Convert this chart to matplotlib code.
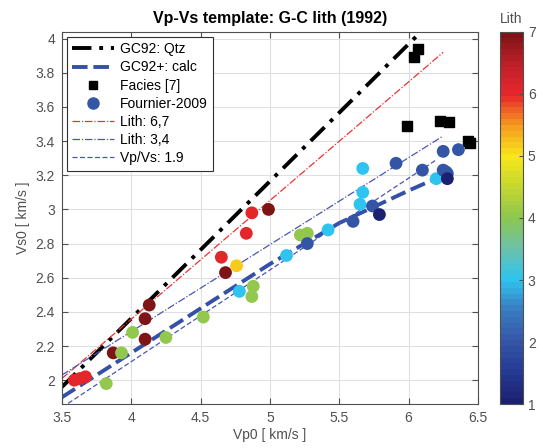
import numpy as np
import matplotlib
matplotlib.use("Agg")
import matplotlib.pyplot as plt
from matplotlib.colors import LinearSegmentedColormap
from matplotlib.lines import Line2D

plt.rcParams['font.family'] = ['Liberation Sans', 'DejaVu Sans']

# template lines
qtz_vp = [3.5, 6.09]
qtz_vs = [1.96, 4.04]
calc_vp = [3.5, 4.0, 4.5, 5.0, 5.5, 6.0, 6.28]
calc_vs = [1.90, 2.16, 2.42, 2.68, 2.92, 3.11, 3.21]
lith67_vp = [3.5, 6.25]
lith67_vs = [2.01, 3.92]
lith34_vp = [3.5, 6.25]
lith34_vs = [2.03, 3.43]
vpvs_vp = [3.5, 6.2]
vpvs_vs = [1.84, 3.29]

# Facies [7]
fac_vp = [5.99, 6.04, 6.07, 6.23, 6.29, 6.43, 6.44]
fac_vs = [3.49, 3.89, 3.94, 3.52, 3.51, 3.40, 3.39]

# Fournier-2009 points
four_vp = [4.13, 4.10, 4.10, 3.87, 4.68, 4.99,
           3.59, 3.63, 3.67, 4.65, 4.87, 4.83,
           4.76,
           3.82, 3.93, 4.01, 4.25, 4.52, 4.88, 4.87, 5.22, 5.27,
           4.78, 5.12, 5.42, 5.67, 5.67, 5.65, 6.20,
           5.27, 5.60, 5.74, 5.91, 6.10, 6.25, 6.36, 6.25, 6.28, 6.27,
           5.79, 6.28]
four_vs = [2.44, 2.36, 2.24, 2.16, 2.63, 3.00,
           2.00, 2.01, 2.02, 2.72, 2.98, 2.86,
           2.67,
           1.98, 2.16, 2.28, 2.25, 2.37, 2.55, 2.49, 2.85, 2.86,
           2.52, 2.73, 2.88, 3.24, 3.10, 3.03, 3.18,
           2.80, 2.93, 3.02, 3.27, 3.23, 3.34, 3.35, 3.23, 3.21, 3.22,
           2.97, 3.18]
four_lith = [7, 7, 7, 7, 7, 7,
             6, 6, 6, 6, 6, 6,
             5.2,
             4, 4, 4, 4, 4, 4, 4, 4, 4,
             3, 3, 3, 3, 3, 3, 3,
             2, 2, 2, 2, 2, 2, 2, 2, 2, 2,
             1, 1]

cb_ticks = [1, 2, 3, 4, 5, 6, 7]

# muted jet-like colormap as in the figure
cmap = LinearSegmentedColormap.from_list('lith', [
    (0.0, '#1b2170'), (0.5 / 6, '#263b94'), (1 / 6, '#3557a8'),
    (1.5 / 6, '#3a7cc0'), (2 / 6, '#2fc4ef'), (2.5 / 6, '#6cc1aa'),
    (3 / 6, '#8cc650'), (3.5 / 6, '#c4d630'), (4 / 6, '#f7e71a'),
    (4.5 / 6, '#f59e1f'), (5 / 6, '#e8272a'), (5.5 / 6, '#c0202a'),
    (1.0, '#7e1416')], N=64)

gray = '#505050'
red_ln = '#f03030'
blue_ln = '#4a55b8'
fig = plt.figure(figsize=(5.43, 4.48), dpi=100)
ax = fig.add_axes([0.114, 0.098, 0.766, 0.831])

ax.plot(qtz_vp, qtz_vs, color='k', lw=2.8, dashes=(5, 2, 1, 2))
ax.plot(calc_vp, calc_vs, color='#3550a8', lw=2.8, dashes=(4, 1.5))
ax.plot(lith67_vp, lith67_vs, color=red_ln, lw=0.9, dashes=(6, 1.5, 1, 1.5))
ax.plot(lith34_vp, lith34_vs, color=blue_ln, lw=0.9, dashes=(6, 1.5, 1, 1.5))
ax.plot(vpvs_vp, vpvs_vs, color=blue_ln, lw=0.9, dashes=(4, 2))
ax.scatter(fac_vp, fac_vs, marker='s', s=50, color='k', zorder=3)
ax.scatter(four_vp, four_vs, c=four_lith, cmap=cmap, vmin=1, vmax=7,
           s=85, edgecolors='none', zorder=4)

ax.set_xlim(3.5, 6.5)
ax.set_ylim(1.86, 4.04)
ax.set_xticks([3.5, 4, 4.5, 5, 5.5, 6, 6.5])
ax.set_xticklabels(['3.5', '4', '4.5', '5', '5.5', '6', '6.5'])
ax.set_yticks([2, 2.2, 2.4, 2.6, 2.8, 3, 3.2, 3.4, 3.6, 3.8, 4])
ax.set_yticklabels(['2', '2.2', '2.4', '2.6', '2.8', '3', '3.2', '3.4', '3.6', '3.8', '4'])
ax.grid(True, color='#e0e0e0', lw=0.8)
ax.set_axisbelow(True)
ax.tick_params(direction='in', top=True, right=True, colors=gray,
               labelsize=10, length=4, pad=5)
for sp in ax.spines.values():
    sp.set_color(gray)
ax.set_xlabel('Vp0 [ km/s ]', color=gray, fontsize=10, labelpad=2)
ax.set_ylabel('Vs0 [ km/s ]', color=gray, fontsize=10, labelpad=4)
ax.set_title('Vp-Vs template: G-C lith (1992)', fontsize=11.5,
             fontweight='bold', pad=6)

handles = [
    Line2D([], [], color='k', lw=2.8, dashes=(5, 2, 1, 2)),
    Line2D([], [], color='#3550a8', lw=2.8, dashes=(4, 1.5)),
    Line2D([], [], color='k', marker='s', ls='none', ms=6),
    Line2D([], [], color='#3557a8', marker='o', ls='none', ms=8),
    Line2D([], [], color=red_ln, lw=0.9, dashes=(6, 1.5, 1, 1.5)),
    Line2D([], [], color=blue_ln, lw=0.9, dashes=(6, 1.5, 1, 1.5)),
    Line2D([], [], color=blue_ln, lw=0.9, dashes=(4, 2)),
]
labels = ['GC92: Qtz', 'GC92+: calc', 'Facies [7]', 'Fournier-2009',
          'Lith: 6,7', 'Lith: 3,4', 'Vp/Vs: 1.9']
leg = ax.legend(handles, labels, loc='upper left', fontsize=10,
                handlelength=3.0, handletextpad=0.4, labelspacing=0.3,
                borderpad=0.4, borderaxespad=0, fancybox=False, framealpha=1,
                edgecolor='#303030', bbox_to_anchor=(0.012, 0.987))
leg.get_frame().set_linewidth(0.8)

cax = fig.add_axes([0.921, 0.098, 0.042, 0.831])
sm = plt.cm.ScalarMappable(cmap=cmap, norm=plt.Normalize(1, 7))
cb = fig.colorbar(sm, cax=cax, ticks=cb_ticks)
cb.outline.set_edgecolor(gray)
cb.ax.tick_params(colors=gray, labelsize=10, direction='in', length=3)
cb.ax.set_title('Lith', fontsize=10, color=gray, pad=6)

fig.savefig('out.png', dpi=100)
